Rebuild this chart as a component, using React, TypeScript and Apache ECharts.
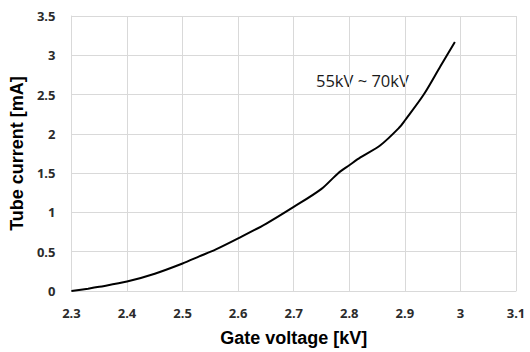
import React, { useEffect, useRef } from "react";
import * as echarts from "echarts";

const gateVoltage = [2.3, 2.33, 2.35, 2.4, 2.45, 2.5, 2.53, 2.56, 2.6, 2.65, 2.7, 2.75, 2.78, 2.8, 2.82, 2.856, 2.89, 2.9, 2.934, 2.964, 2.99];
const tubeCurrent = [0, 0.03, 0.053, 0.12, 0.22, 0.35, 0.44, 0.53, 0.67, 0.855, 1.07, 1.3, 1.5, 1.6, 1.7, 1.855, 2.08, 2.17, 2.5, 2.86, 3.17];
const annotation = "55kV ~ 70kV";
const xTitle = "Gate voltage [kV]";
const yTitle = "Tube current [mA]";

export default function App() {
  const ref = useRef<HTMLDivElement>(null);
  useEffect(() => {
    const chart = echarts.init(ref.current!, null, { renderer: "svg" });
    const data = gateVoltage.map((x, i) => [x, tubeCurrent[i]]);
    const labelStyle = { fontFamily: "Noto Sans", fontWeight: "bold" as const, fontSize: 13, color: "#2b2b2b" };
    chart.setOption({
      animation: false,
      backgroundColor: "#ffffff",
      grid: { left: 71, right: 14, top: 16, bottom: 59.5 },
      xAxis: {
        type: "value",
        min: 2.3,
        max: 3.1,
        interval: 0.1,
        axisLine: { show: true, lineStyle: { color: "#d9d9d9", width: 1 } },
        axisTick: { show: false },
        splitLine: { show: true, lineStyle: { color: "#d9d9d9", width: 1 } },
        axisLabel: { ...labelStyle, margin: 15, formatter: (v: number) => String(Math.round(v * 10) / 10) },
        name: xTitle,
        nameLocation: "middle",
        nameGap: 38,
        nameTextStyle: { fontFamily: "Liberation Sans", fontWeight: "bold", fontSize: 18, color: "#000000" },
      },
      yAxis: {
        type: "value",
        min: 0,
        max: 3.5,
        interval: 0.5,
        axisLine: { show: true, lineStyle: { color: "#d9d9d9", width: 1 } },
        axisTick: { show: false },
        splitLine: { show: true, lineStyle: { color: "#d9d9d9", width: 1 } },
        axisLabel: { ...labelStyle, margin: 16, formatter: (v: number) => String(v) },
        name: yTitle,
        nameLocation: "middle",
        nameGap: 42,
        nameTextStyle: { fontFamily: "Liberation Sans", fontWeight: "bold", fontSize: 18, color: "#000000" },
      },
      series: [
        {
          type: "line",
          data,
          smooth: 0.3,
          showSymbol: false,
          lineStyle: { color: "#000000", width: 2 },
        },
      ],
      graphic: [
        {
          type: "text",
          x: 316,
          y: 80,
          style: { text: annotation, fontFamily: "Open Sans", fontSize: 16.5, fill: "#1a1a1a", verticalAlign: "middle" },
        },
      ],
    });
    return () => chart.dispose();
  }, []);
  return <div ref={ref} style={{ position: "fixed", left: 0, top: 0, width: 530, height: 352 }} />;
}
